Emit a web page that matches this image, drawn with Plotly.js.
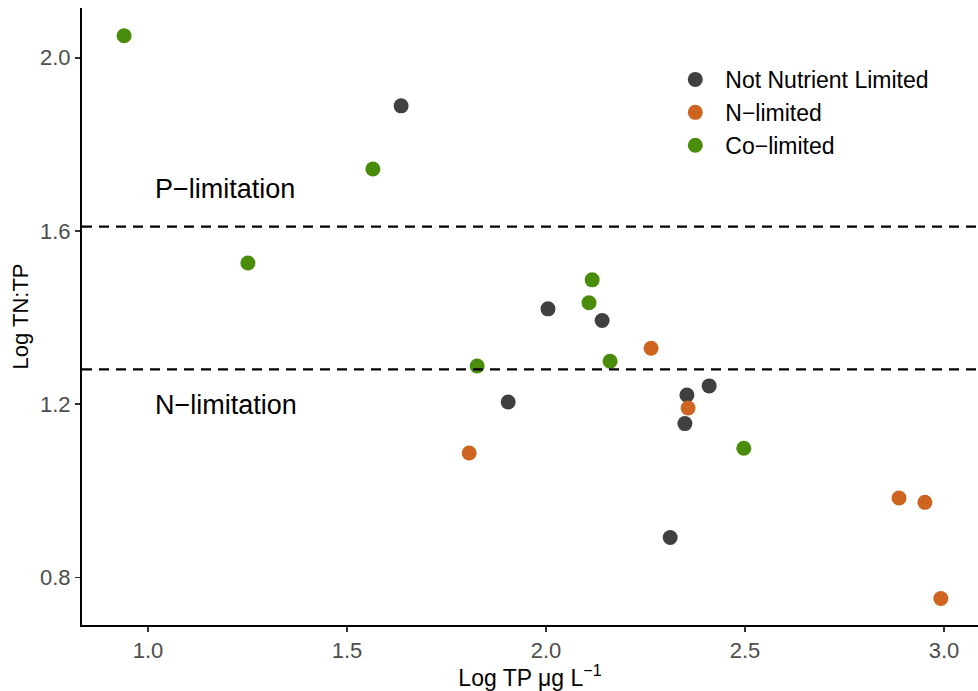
<!DOCTYPE html>
<html>
<head>
<meta charset="utf-8">
<script src="https://cdn.plot.ly/plotly-3.0.1.min.js"></script>
<style>html,body{margin:0;padding:0;background:#fff;}#chart{width:978px;height:691px;}</style>
</head>
<body>
<div id="chart"></div>
<script>
const seriesNames = ["Not Nutrient Limited", "N\u2212limited", "Co\u2212limited"];
const seriesColors = ["#404040", "#CD6420", "#4A8C0B"];

const notLimitedX = [1.636, 2.005, 2.141, 1.905, 2.354, 2.410, 2.349, 2.312];
const notLimitedY = [1.889, 1.420, 1.393, 1.205, 1.221, 1.242, 1.155, 0.892];

const nLimitedX = [2.264, 2.357, 1.807, 2.887, 2.952, 2.992];
const nLimitedY = [1.329, 1.191, 1.087, 0.983, 0.973, 0.751];

const coLimitedX = [0.940, 1.251, 1.565, 1.827, 2.108, 2.116, 2.161, 2.497];
const coLimitedY = [2.051, 1.526, 1.743, 1.288, 1.434, 1.487, 1.299, 1.098];

const thresholds = [1.61, 1.28];
const regionLabels = ["P\u2212limitation", "N\u2212limitation"];
const regionLabelY = [1.697, 1.197];

const xTicks = [1.0, 1.5, 2.0, 2.5, 3.0];
const yTicks = [0.8, 1.2, 1.6, 2.0];

const xs = [notLimitedX, nLimitedX, coLimitedX];
const ys = [notLimitedY, nLimitedY, coLimitedY];

const FONT = "Liberation Sans, Arial, sans-serif";

const traces = seriesNames.map((n, i) => ({
  type: "scatter", mode: "markers", name: n,
  x: xs[i], y: ys[i],
  marker: {color: seriesColors[i], size: 15, line: {width: 0}}
}));

const shapes = thresholds.map(t => ({
  type: "line", xref: "paper", x0: 0, x1: 1, yref: "y", y0: t, y1: t,
  line: {color: "#000", width: 2.2, dash: "10px,7px"}
}));

const annotations = regionLabels.map((t, i) => ({
  text: t, x: 1.013, y: regionLabelY[i], xref: "x", yref: "y",
  xanchor: "left", yanchor: "middle", showarrow: false,
  font: {size: 27, color: "#000", family: FONT}
}));

const layout = {
  width: 978, height: 691,
  margin: {l: 82, r: 0, t: 8, b: 66},
  paper_bgcolor: "#fff", plot_bgcolor: "#fff",
  font: {family: FONT},
  showlegend: true,
  legend: {x: 0.651, y: 0.919, xanchor: "left", yanchor: "top", itemwidth: 50,
    font: {size: 23, color: "#000", family: FONT}, bgcolor: "rgba(0,0,0,0)"},
  xaxis: {
    range: [0.8342, 3.0854], tickvals: xTicks, ticktext: xTicks.map(v => v.toFixed(1)),
    showgrid: false, zeroline: false, showline: true, linecolor: "#000", linewidth: 2,
    ticks: "outside", ticklen: 5, tickwidth: 1.5, tickcolor: "#333",
    tickfont: {size: 22, color: "#4D4D4D", family: FONT},
    title: {text: "Log TP \u03bcg L<sup>\u22121</sup>", font: {size: 23, color: "#000", family: FONT}, standoff: 4}
  },
  yaxis: {
    range: [0.6897, 2.1150], tickvals: yTicks, ticktext: yTicks.map(v => v.toFixed(1)),
    showgrid: false, zeroline: false, showline: true, linecolor: "#000", linewidth: 2,
    ticks: "outside", ticklen: 5, tickwidth: 1.5, tickcolor: "#333",
    tickfont: {size: 22, color: "#4D4D4D", family: FONT},
    title: {text: "Log TN:TP", font: {size: 22, color: "#000", family: FONT}, standoff: 5}
  },
  shapes: shapes,
  annotations: annotations
};

Plotly.newPlot("chart", traces, layout, {displayModeBar: false, staticPlot: true});
</script>
</body>
</html>
